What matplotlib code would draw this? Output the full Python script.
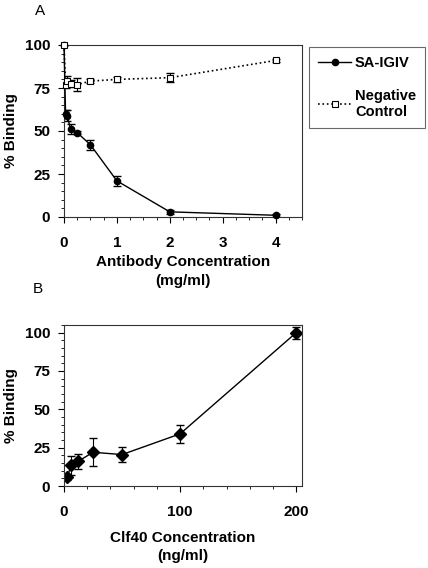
import matplotlib
matplotlib.use("Agg")
import matplotlib.pyplot as plt
from matplotlib.ticker import MultipleLocator

plt.rcParams['font.family'] = ['Liberation Sans', 'DejaVu Sans']

# panel A
ab_conc = [0, 0.03, 0.06, 0.125, 0.25, 0.5, 1, 2, 4]
sa_igiv = [100, 60, 59, 51, 49, 42, 21, 3, 1]
sa_err = [0, 2, 3, 3, 1, 3, 3, 1, 1]
neg_ctrl = [100, 77, 79, 77.5, 77, 79, 80, 81, 91]
neg_err = [0, 2, 3, 2, 4, 1, 1.5, 2.5, 1]

# panel B
clf_conc = [3, 6, 12, 25, 50, 100, 200]
clf_bind = [6, 13.5, 16, 22, 20.5, 34, 100]
clf_err = [2, 6, 5, 9, 5, 6, 4]

W, H = 428, 568
fig = plt.figure(figsize=(W / 100, H / 100), dpi=100)

def box(l, t, r, b):
    return [l / W, 1 - b / H, (r - l) / W, (b - t) / H]

bold = dict(fontweight='bold', fontsize=11)

def style(ax):
    for s in ax.spines.values():
        s.set_linewidth(0.8)
        s.set_color('#333333')
    ax.tick_params(which='major', direction='out', length=4, width=0.8)
    ax.tick_params(which='minor', direction='out', length=2.5, width=0.6)
    ax.tick_params(axis='y', pad=6)
    ax.tick_params(axis='x', pad=10)
    for lab in ax.get_xticklabels() + ax.get_yticklabels():
        lab.set_fontweight('bold')
        lab.set_fontsize(11)

axA = fig.add_axes(box(64, 45, 302, 217))
la, = axA.plot(ab_conc, sa_igiv, '-', color='black', lw=1, marker='o', ms=4.5,
               mfc='black', label='SA-IGIV', clip_on=False, zorder=3)
axA.errorbar(ab_conc, sa_igiv, yerr=sa_err, fmt='none', ecolor='black',
             elinewidth=0.8, capsize=3)
lb, = axA.plot(ab_conc, neg_ctrl, ':', color='black', lw=1.2, marker='s', ms=5,
               mfc='white', mew=0.8, label='Negative\nControl', clip_on=False,
               zorder=4)
axA.errorbar(ab_conc, neg_ctrl, yerr=neg_err, fmt='none', ecolor='black',
             elinewidth=0.8, capsize=3)
axA.set_xlim(0, 4.5)
axA.set_ylim(0, 100)
axA.set_xticks([0, 1, 2, 3, 4])
axA.set_yticks([0, 25, 50, 75, 100])
axA.xaxis.set_minor_locator(MultipleLocator(0.25))
axA.yaxis.set_minor_locator(MultipleLocator(5))
style(axA)
axA.set_ylabel('% Binding', labelpad=5, **bold)
axA.set_xlabel('Antibody Concentration\n(mg/ml)', labelpad=3, linespacing=1.5, **bold)
fig.text(40 / W, 1 - 11 / H, 'A', fontsize=11, ha='center', va='center')

leg = fig.legend(handles=[la, lb], loc='upper left',
                 bbox_to_anchor=(309 / W, 1 - 47 / H), frameon=True,
                 fancybox=False, edgecolor='#444444', prop=dict(weight='bold', size=10.5),
                 handlelength=2.3, handletextpad=0.25, labelspacing=1.3,
                 borderpad=0.6, borderaxespad=0)
leg.get_frame().set_linewidth(0.8)

axB = fig.add_axes(box(64, 325, 302, 486))
axB.errorbar(clf_conc, clf_bind, yerr=clf_err, fmt='-D', color='black', lw=1,
             ms=6, elinewidth=0.8, capsize=3)
axB.set_xlim(0, 205)
axB.set_ylim(0, 105)
axB.set_xticks([0, 100, 200])
axB.set_yticks([0, 25, 50, 75, 100])
axB.xaxis.set_minor_locator(MultipleLocator(20))
axB.yaxis.set_minor_locator(MultipleLocator(5))
style(axB)
axB.set_ylabel('% Binding', labelpad=5, **bold)
axB.set_xlabel('Clf40 Concentration\n(ng/ml)', labelpad=8, linespacing=1.4, **bold)
fig.text(38 / W, 1 - 289 / H, 'B', fontsize=11, ha='center', va='center')

fig.savefig('out.png', dpi=100)
